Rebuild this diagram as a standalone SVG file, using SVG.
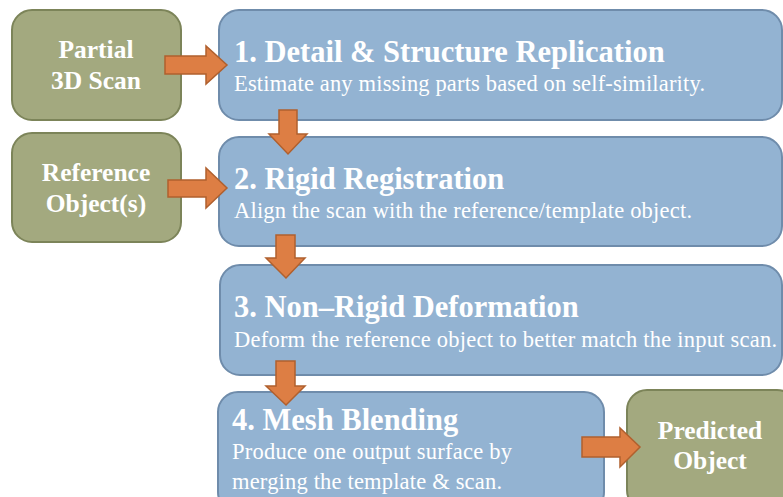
<svg xmlns="http://www.w3.org/2000/svg" width="783" height="497" viewBox="0 0 783 497">
  <style>
    .step { fill: #93b3d2; stroke: #6f8cab; stroke-width: 2; }
    .io { fill: #a3a97f; stroke: #7c8459; stroke-width: 2; }
    .arrow { fill: #dd7e44; stroke: #b0602e; stroke-width: 1.5; stroke-linejoin: miter; }
    .title { font-family: "Liberation Serif", "Times New Roman", serif; font-weight: bold; font-size: 30.5px; fill: #ffffff; }
    .desc { font-family: "Liberation Serif", "Times New Roman", serif; font-size: 22.5px; fill: #ffffff; }
    .iotext { font-family: "Liberation Serif", "Times New Roman", serif; font-weight: bold; font-size: 25.5px; fill: #ffffff; text-anchor: middle; }
  </style>
  <rect width="783" height="497" fill="#ffffff"/>

  <g id="partial-scan">
    <rect class="io" x="12" y="10" width="169" height="110" rx="20"/>
    <text class="iotext" x="96" y="58">Partial</text>
    <text class="iotext" x="96" y="89">3D Scan</text>
  </g>

  <g id="reference-objects">
    <rect class="io" x="12" y="133" width="169" height="109" rx="20"/>
    <text class="iotext" x="96" y="181">Reference</text>
    <text class="iotext" x="96" y="212">Object(s)</text>
  </g>

  <g id="step1">
    <rect class="step" x="219" y="10" width="563" height="110" rx="20"/>
    <text class="title" x="234" y="62">1. Detail &amp; Structure Replication</text>
    <text class="desc" x="234" y="91" textLength="471">Estimate any missing parts based on self-similarity.</text>
  </g>

  <g id="step2">
    <rect class="step" x="219" y="137" width="563" height="109" rx="20"/>
    <text class="title" x="234" y="189">2. Rigid Registration</text>
    <text class="desc" x="234" y="218" textLength="458">Align the scan with the reference/template object.</text>
  </g>

  <g id="step3">
    <rect class="step" x="220" y="265" width="562" height="110" rx="20"/>
    <text class="title" x="234" y="317">3. Non–Rigid Deformation</text>
    <text class="desc" x="234" y="347" textLength="543">Deform the reference object to better match the input scan.</text>
  </g>

  <g id="step4">
    <rect class="step" x="218" y="392" width="386" height="120" rx="20"/>
    <text class="title" x="232" y="430">4. Mesh Blending</text>
    <text class="desc" x="232" y="459" textLength="280">Produce one output surface by</text>
    <text class="desc" x="232" y="489" textLength="270">merging the template &amp; scan.</text>
  </g>

  <g id="predicted-object">
    <rect class="io" x="627" y="390" width="170" height="120" rx="20"/>
    <text class="iotext" x="710" y="439">Predicted</text>
    <text class="iotext" x="710" y="469">Object</text>
  </g>

  <g id="connectors">
    <!-- scan into step 1 -->
    <polygon class="arrow" points="165,56 206,56 206,46 227,65 206,84 206,74 165,74"/>
    <!-- references into step 2 -->
    <polygon class="arrow" points="168,180 206,180 206,168 227,188 206,208 206,197 168,197"/>
    <!-- step 1 to step 2 -->
    <polygon class="arrow" points="279,110 297,110 297,134 307,134 288,154 269,134 279,134"/>
    <!-- step 2 to step 3 -->
    <polygon class="arrow" points="276,235 295,235 295,258 305,258 286,278 266,258 276,258"/>
    <!-- step 3 to step 4 -->
    <polygon class="arrow" points="276,361 295,361 295,386 305,386 286,405 266,386 276,386"/>
    <!-- step 4 to result -->
    <polygon class="arrow" points="582,437 620,437 620,428 640,447 620,467 620,457 582,457"/>
  </g>
</svg>
